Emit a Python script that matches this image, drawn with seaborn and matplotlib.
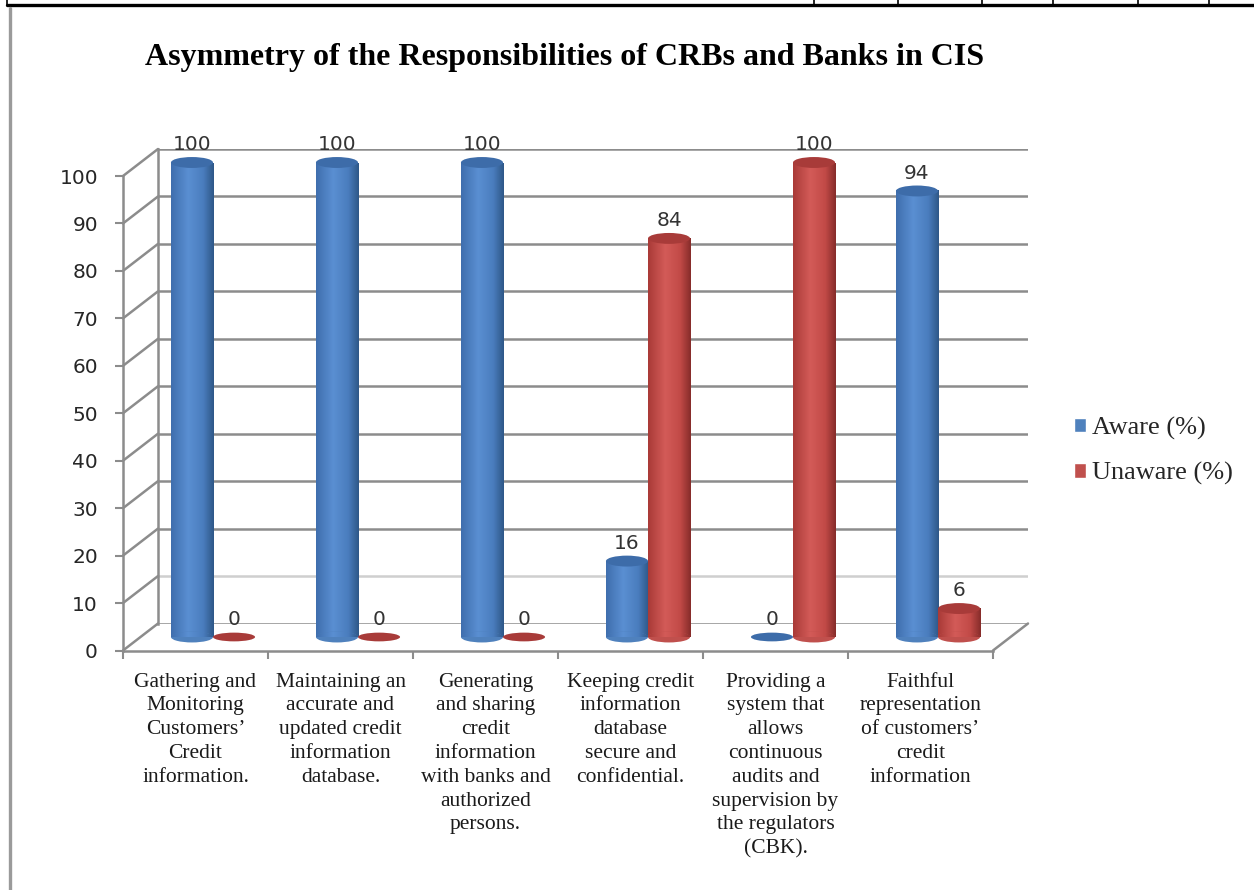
import numpy as np
import pandas as pd
import seaborn as sns
import matplotlib.pyplot as plt
from matplotlib.patches import Ellipse, ConnectionPatch
from matplotlib.colors import LinearSegmentedColormap
from matplotlib.lines import Line2D

# data
responsibilities = [
    "Gathering and\nMonitoring\nCustomers\u2019\nCredit\ninformation.",
    "Maintaining an\naccurate and\nupdated credit\ninformation\ndatabase.",
    "Generating\nand sharing\ncredit\ninformation\nwith banks and\nauthorized\npersons.",
    "Keeping credit\ninformation\ndatabase\nsecure and\nconfidential.",
    "Providing a\nsystem that\nallows\ncontinuous\naudits and\nsupervision by\nthe regulators\n(CBK).",
    "Faithful\nrepresentation\nof customers\u2019\ncredit\ninformation",
]
aware = [100, 100, 100, 16, 0, 94]
unaware = [0, 0, 0, 84, 100, 6]
groups = ["Aware (%)", "Unaware (%)"]
y_ticks = list(range(0, 101, 10))

df = pd.DataFrame({
    "Responsibility": responsibilities * 2,
    "Percent": aware + unaware,
    "Group": [groups[0]] * len(aware) + [groups[1]] * len(unaware),
})

blue, red = "#4F81BD", "#C0504D"
grid_col = "#8c8c8c"

sns.set_theme(style="white")
plt.rcParams["font.family"] = ["DejaVu Sans"]

W, H = 1254, 890
fig = plt.figure(figsize=(W / 100, H / 100), dpi=100)


def box(x0, y_zero, y_top, x1):
    # pixel positions -> figure fraction rect
    return [x0 / W, 1 - y_zero / H, (x1 - x0) / W, (y_zero - y_top) / H]


# three planes to fake the excel 3d look: back wall, bars, front axis
back = fig.add_axes(box(158, 623.5, 149, 1028), zorder=0)
ax = fig.add_axes(box(140.5, 637, 162.5, 1010.5), zorder=1)
front = fig.add_axes(box(123, 650.5, 176, 993), zorder=2)

for a in (back, ax, front):
    a.set_xlim(-0.5, 5.5)
    a.set_ylim(0, 100)
    a.patch.set_alpha(0)

# back wall
for s in back.spines.values():
    s.set_visible(False)
back.spines["left"].set_visible(True)
back.spines["left"].set_color(grid_col)
back.spines["left"].set_linewidth(1.8)
back.set_yticks(y_ticks)
back.set_xticks([])
back.yaxis.grid(True, color=grid_col, lw=1.8)
back.get_ygridlines()[1].set_color("#cfcfcf")
back.tick_params(left=False, labelleft=False)

# bars
sns.barplot(data=df, x="Responsibility", y="Percent", hue="Group",
            palette=[blue, red], width=0.58, ax=ax, saturation=1)
ax.set_xlim(-0.5, 5.5)
ax.set_ylim(0, 100)

cyl = {
    blue: LinearSegmentedColormap.from_list("b", [(0, "#3F6EAD"), (0.4, "#5A8FD2"), (0.75, "#4A7DBE"), (1, "#2E5787")]),
    red: LinearSegmentedColormap.from_list("r", [(0, "#A93A37"), (0.4, "#D35B58"), (0.75, "#C24A47"), (1, "#862C2A")]),
}
tops = {blue: "#3D6CA9", red: "#A83B39"}
grad = np.linspace(0, 1, 256).reshape(1, -1)
cap = 2.3

for cont, col in zip(ax.containers, [blue, red]):
    for bar in cont:
        x0, w, h = bar.get_x(), bar.get_width(), bar.get_height()
        xc = x0 + w / 2
        bar.set_edgecolor("none")
        if h > 0:
            im = ax.imshow(grad, cmap=cyl[col], extent=(x0, x0 + w, 0, h),
                           aspect="auto", origin="lower", zorder=2)
            bottom = Ellipse((xc, 0), w, cap, facecolor=col, edgecolor="none",
                             zorder=2, clip_on=False)
            ax.add_patch(bottom)
            im2 = ax.imshow(grad, cmap=cyl[col], extent=(x0, x0 + w, -cap / 2, cap / 2),
                            aspect="auto", origin="lower", zorder=2)
            im2.set_clip_path(bottom)
        ax.add_patch(Ellipse((xc, h), w, cap if h > 0 else cap * 0.8,
                             facecolor=tops[col], edgecolor="none", zorder=3,
                             clip_on=False))
    ax.bar_label(cont, padding=6, fontsize=14.5, color="#333333")

for t in ax.texts:
    t.set_clip_on(False)
ax.set_xlim(-0.5, 5.5)
ax.set_ylim(0, 100)
ax.set_xticks([])
ax.set_yticks([])
ax.set_xlabel("")
ax.set_ylabel("")
for s in ax.spines.values():
    s.set_visible(False)

sns.move_legend(ax, "center left", bbox_to_anchor=(1050 / W, 1 - 451 / H),
                bbox_transform=fig.transFigure, frameon=False, title=None,
                prop={"family": "Liberation Serif", "size": 19},
                handlelength=0.48, handleheight=0.48, handletextpad=0.2,
                labelspacing=0.85)

# front axis
front.spines["top"].set_visible(False)
front.spines["right"].set_visible(False)
for side in ("left", "bottom"):
    front.spines[side].set_color(grid_col)
    front.spines[side].set_linewidth(1.8)
front.set_yticks(y_ticks)
front.tick_params(axis="y", left=True, length=6, width=1.5, color=grid_col,
                  pad=12, labelsize=14.5, labelcolor="#262626")
front.set_xticks(np.arange(-0.5, 6, 1))
front.tick_params(axis="x", which="major", bottom=True, length=6, width=1.5,
                  color=grid_col, labelbottom=False)
front.set_xticks(range(len(responsibilities)), labels=responsibilities, minor=True)
front.tick_params(axis="x", which="minor", length=0, pad=16)
for lab in front.get_xticklabels(minor=True):
    lab.set_fontfamily("Liberation Serif")
    lab.set_fontsize(15.5)
    lab.set_linespacing(1.34)
    lab.set_color("#1a1a1a")

# side wall and floor edges
for t in y_ticks:
    fig.add_artist(ConnectionPatch((-0.5, t), (-0.5, t), "data", "data",
                                   axesA=front, axesB=back, color=grid_col, lw=1.8))
fig.add_artist(ConnectionPatch((5.5, 0), (5.5, 0), "data", "data",
                               axesA=front, axesB=back, color=grid_col, lw=1.8))

fig.text(565 / W, 1 - 57 / H, "Asymmetry of the Responsibilities of CRBs and Banks in CIS",
         ha="center", va="center", fontsize=23, fontweight="bold",
         family="Liberation Serif", color="black")

# bits of the page around the chart
fig.add_artist(Line2D([7 / W, 1], [1 - 5 / H, 1 - 5 / H], transform=fig.transFigure, color="black", lw=2.4))
for xp in [7, 814, 898, 982, 1053, 1138, 1209]:
    fig.add_artist(Line2D([xp / W, xp / W], [1, 1 - 5 / H], transform=fig.transFigure, color="black", lw=1.2))
fig.add_artist(Line2D([10 / W, 10 / W], [1 - 8 / H, 0], transform=fig.transFigure, color="#9a9a9a", lw=2.4))

fig.savefig("out.png", dpi=100, facecolor="white")
